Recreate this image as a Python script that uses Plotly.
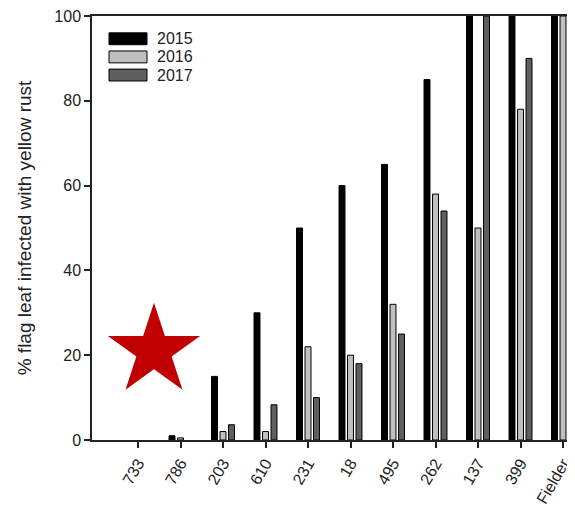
import math
import plotly.graph_objects as go

categories = ["733", "786", "203", "610", "231", "18", "495", "262", "137", "399", "Fielder"]
years = ["2015", "2016", "2017"]
v2015 = [0, 1, 15, 30, 50, 60, 65, 85, 100, 100, 100]
v2016 = [0, 0.5, 2, 2, 22, 20, 32, 58, 50, 78, 100]
v2017 = [0, 0, 3.6, 8.3, 10, 18, 25, 54, 100, 90, 94]
y_ticks = [0, 20, 40, 60, 80, 100]

colors = ["#000000", "#c0c0c0", "#5f5f5f"]
series = [v2015, v2016, v2017]

OFF = 8  # page body margin in the browser
W, H = 575 - OFF, 507 - OFF
ml, mr, mt, mb = 92 - OFF, 0, 15 - OFF, 64
pw, ph = W - ml - mr, H - mt - mb
first_px, step_px = 46.0, 42.5


def px_to_paper(x, y):
    return (x - OFF - ml) / pw, 1 - (y - OFF - mt) / ph


fig = go.Figure()
for name, vals, col in zip(years, series, colors):
    fig.add_trace(go.Bar(
        x=list(range(len(categories))), y=vals, name=name,
        marker=dict(color=col,
                    line=dict(color="#000000", width=[1 if v > 0 else 0 for v in vals])),
        showlegend=False,
    ))

# custom legend (boxes + labels), positioned in pixels of the window
shapes = []
annotations = []
for i, (name, col) in enumerate(zip(years, colors)):
    cy = 38 + i * 18.3
    x0, y1p = px_to_paper(109, cy + 6)
    x1, y0p = px_to_paper(147, cy - 6)
    shapes.append(dict(type="rect", xref="paper", yref="paper",
                       x0=x0, x1=x1, y0=y1p, y1=y0p,
                       fillcolor=col, line=dict(color="#000000", width=1)))
    tx, ty = px_to_paper(155, cy)
    annotations.append(dict(xref="paper", yref="paper", x=tx, y=ty,
                            text=name, showarrow=False, xanchor="left", yanchor="middle",
                            font=dict(family="Liberation Sans, Arial", size=16, color="#222")))

# red star decoration
cx, cyy, R = 154, 353, 48.5
r_in = R * 0.382
pts = []
for k in range(10):
    ang = math.radians(90 + k * 36)
    rr = R if k % 2 == 0 else r_in
    pts.append(px_to_paper(cx + rr * math.cos(ang), cyy - rr * math.sin(ang)))
path = "M " + " L ".join(f"{x:.5f},{y:.5f}" for x, y in pts) + " Z"
shapes.append(dict(type="path", xref="paper", yref="paper", path=path,
                   fillcolor="#c00000", line=dict(width=0)))

fig.update_layout(
    width=W, height=H,
    margin=dict(l=ml, r=mr, t=mt, b=mb, pad=0),
    plot_bgcolor="white", paper_bgcolor="white",
    barmode="group", bargap=0.4, bargroupgap=0.3,
    font=dict(family="Liberation Sans, Arial", size=16, color="#222"),
    shapes=shapes, annotations=annotations,
)
fig.update_xaxes(
    range=[-first_px / step_px, (pw - first_px) / step_px],
    tickmode="array", tickvals=list(range(len(categories))), ticktext=categories,
    tickangle=-60, ticks="outside", ticklen=6, tickcolor="#222", tickwidth=1.5,
    showline=True, linecolor="#222", linewidth=1.5, mirror=True,
    showgrid=False, zeroline=False, ticklabeloverflow="allow",
)
fig.update_yaxes(
    range=[0, 100], tickvals=y_ticks, ticks="outside", ticklen=6, tickcolor="#222",
    tickwidth=1.5, ticklabeloverflow="allow",
    showline=True, linecolor="#222", linewidth=1.5,
    showgrid=False, zeroline=False,
    title=dict(text="% flag leaf infected with yellow rust", standoff=18,
               font=dict(size=19)),
)

fig.write_html("out.html")
